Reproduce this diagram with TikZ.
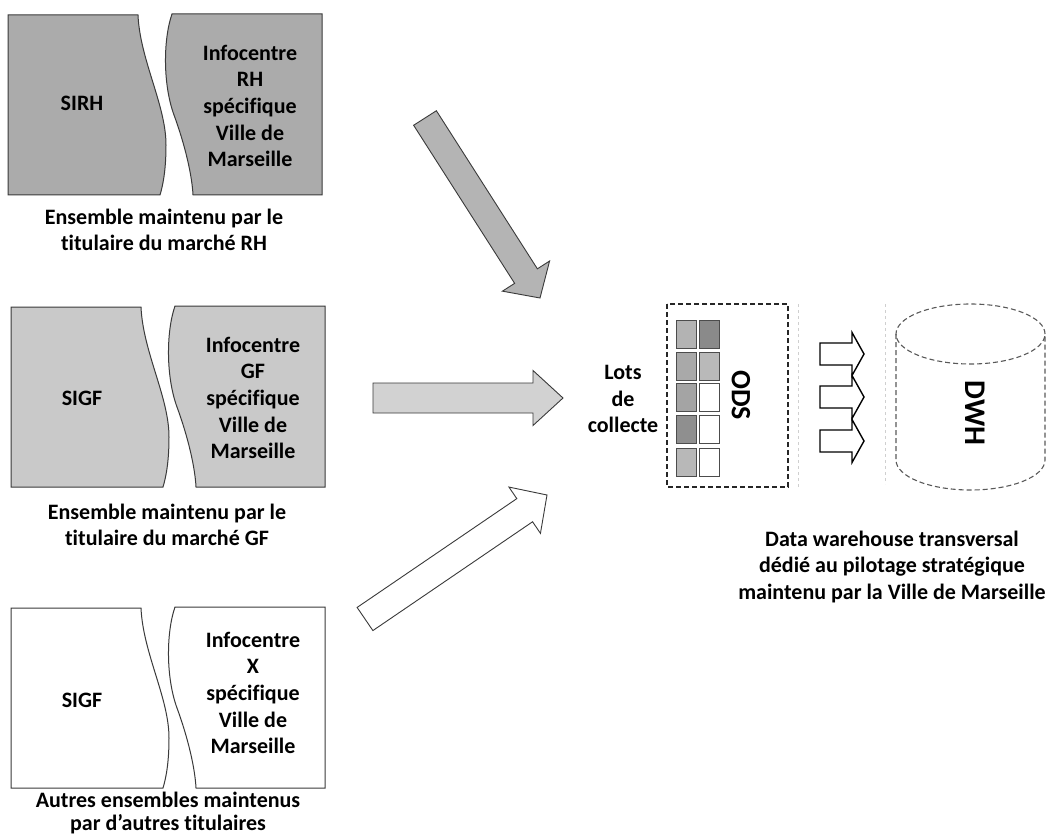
\documentclass[tikz,border=0pt]{standalone}
\usepackage{fontspec}
\setmainfont{Carlito}[Ligatures=NoCommon]
\usetikzlibrary{calc}

% Block arrow: style, tail, tip, shaft half-width, head half-width, head length
\newcommand\blockarrow[6]{%
  \coordinate (ab) at ($(#3)!#6pt!(#2)$);
  \draw[#1] ($(#2)!#4pt!90:(#3)$) -- ($(ab)!#4pt!90:(#3)$)
    -- ($(ab)!#5pt!90:(#3)$) -- (#3) -- ($(ab)!#5pt!-90:(#3)$)
    -- ($(ab)!#4pt!-90:(#3)$) -- ($(#2)!#4pt!-90:(#3)$) -- cycle;}

\definecolor{rhgray}{HTML}{ABABAB}
\definecolor{gfgray}{HTML}{C9C9C9}
\definecolor{arrowA}{HTML}{B4B4B4}
\definecolor{arrowB}{HTML}{D2D2D2}
\definecolor{edge}{HTML}{3A3A3A}
\definecolor{faint}{HTML}{CFCFCF}

\tikzset{
  txt/.style={font=\fontsize{22}{26.6}\selectfont\bfseries, align=center, inner sep=0pt},
  piece/.style={draw=edge, line width=1pt},
  rhpiece/.style={piece, fill=rhgray},
  gfpiece/.style={piece, fill=gfgray},
  otherpiece/.style={piece, fill=white},
  pics/splitpair/.style={code={
    \draw[#1] (0,0) -- (130,0) .. controls (132,45) and (158,90) .. (158,130)
      .. controls (158,155) and (155,170) .. (152,180) -- (0,180) -- cycle;
    \draw[#1] (164,-1) .. controls (155,25) and (155,70) .. (166,100)
      .. controls (177,130) and (184,160) .. (185,180) -- (314,180) -- (314,-1) -- cycle;
  }},
  bigarrow/.style={draw=edge, line width=0.9pt, line join=miter},
  flowarrow/.style={draw=black, line width=1.4pt, fill=white, line join=miter},
  lot/.style={draw=black!70, line width=1pt},
  dashbox/.style={draw=black!85, line width=1.1pt, dash pattern=on 5pt off 3pt},
  dashcyl/.style={draw=black!65, line width=1.1pt, dash pattern=on 5pt off 3pt},
  guide/.style={draw=faint, line width=0.8pt, dash pattern=on 3pt off 3pt}
}

\begin{document}
\begin{tikzpicture}[x=1pt, y=-1pt]
\useasboundingbox (0,0) rectangle (1052,837);

% ---- source systems ----
\pic at (8,15) {splitpair=rhpiece};
\node[txt] (sirh) at (82,103) {SIRH};
\node[txt] (inforh) at (250,106) {Infocentre\\RH\\spécifique\\Ville de\\Marseille};
\node[txt] (caprh) at (164,230) {Ensemble maintenu par le\\titulaire du marché RH};

\pic at (11,307) {splitpair=gfpiece};
\node[txt] (sigf) at (82,398) {SIGF};
\node[txt] (infogf) at (253,398) {Infocentre\\GF\\spécifique\\Ville de\\Marseille};
\node[txt] (capgf) at (167,525) {Ensemble maintenu par le\\titulaire du marché GF};

\pic at (11,608) {splitpair=otherpiece};
\node[txt] (sigfx) at (82,700) {SIGF};
\node[txt] (infox) at (253,693) {Infocentre\\X\\spécifique\\Ville de\\Marseille};
\node[txt, font=\fontsize{22}{23.5}\selectfont\bfseries] (capx) at (168,813) {Autres ensembles maintenus\\par d’autres titulaires};

% ---- feeds towards the collection batches ----
\coordinate (f1tail) at (425,118);
\coordinate (f1tip) at (540,298);
\coordinate (f2tail) at (373,398);
\coordinate (f2tip) at (563,398);
\coordinate (f3tail) at (365,619);
\coordinate (f3tip) at (547,495);
\blockarrow{bigarrow, fill=arrowA}{f1tail}{f1tip}{13.5}{28}{26}
\blockarrow{bigarrow, fill=arrowB}{f2tail}{f2tip}{15}{27.5}{30}
\blockarrow{bigarrow, fill=white}{f3tail}{f3tip}{14}{28}{27}

\node[txt] (lots) at (623,399) {Lots\\de\\collecte};

% ---- ODS staging area ----
\draw[dashbox] (667,304) rectangle (788,487);
\draw[guide] (798,304) -- (798,488);
\foreach \y/\ca/\cb [count=\i] in {320/B3B3B3/8A8A8A, 352/A9A9A9/B9B9B9, 383/A4A4A4/FFFFFF, 415/8F8F8F/FFFFFF, 448/B8B8B8/FFFFFF}{
  \definecolor{lotA}{HTML}{\ca}
  \definecolor{lotB}{HTML}{\cb}
  \draw[lot, fill=lotA] (676,\y) rectangle (696,\y+28);
  \draw[lot, fill=lotB] (699,\y) rectangle (719,\y+28);
}
\node[txt, font=\fontsize{28}{30}\selectfont\bfseries, rotate=-90] (ods) at (741,395) {ODS};

% ---- loading arrows ----
\coordinate (l1tail) at (820,354);
\coordinate (l1tip) at (864,354);
\coordinate (l2tail) at (820,397);
\coordinate (l2tip) at (864,397);
\coordinate (l3tail) at (820,441);
\coordinate (l3tip) at (864,441);
\blockarrow{flowarrow}{l1tail}{l1tip}{11}{21.5}{12}
\blockarrow{flowarrow}{l2tail}{l2tip}{11}{21.5}{12}
\blockarrow{flowarrow}{l3tail}{l3tip}{11}{21.5}{12}

% ---- data warehouse cylinder ----
\draw[guide] (885,304) -- (885,484);
\draw[dashcyl] (970.5,334) ellipse [x radius=74.5pt, y radius=30pt];
\draw[dashcyl] (896,334) -- (896,460)
  arc [start angle=180, end angle=360, x radius=74.5pt, y radius=30pt]
  -- (1045,334);
\node[txt, font=\fontsize{30}{32}\selectfont\bfseries, rotate=-90] (dwh) at (975,413) {DWH};

\node[txt] (capdwh) at (892,567) {Data warehouse transversal\\dédié au pilotage stratégique\\maintenu par la Ville de Marseille};
\end{tikzpicture}
\end{document}
